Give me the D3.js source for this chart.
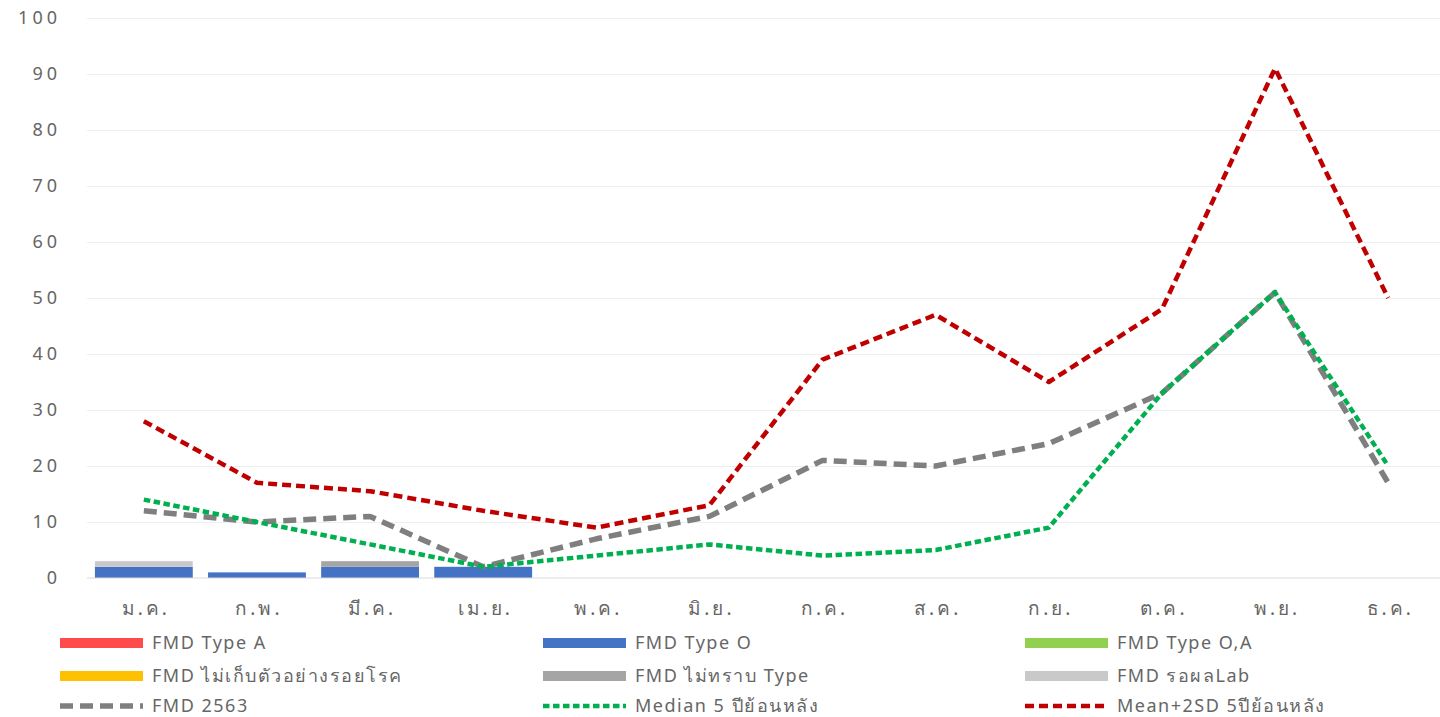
<!DOCTYPE html>
<html>
<head>
<meta charset="utf-8">
<script src="https://cdn.jsdelivr.net/npm/d3@7"></script>
<style>
  body { margin: 0; background: #fff; }
  svg text { font-family: "Noto Sans", "DejaVu Sans", sans-serif; fill: #666666; }
  .grid line { stroke: #eeeeee; }
  .grid .domain { display: none; }
</style>
</head>
<body>
<svg id="chart"></svg>
<script>
// months (Thai abbreviations)
const months = ["ม.ค.", "ก.พ.", "มี.ค.", "เม.ย.", "พ.ค.", "มิ.ย.", "ก.ค.", "ส.ค.", "ก.ย.", "ต.ค.", "พ.ย.", "ธ.ค."];
const yTicks = [0, 10, 20, 30, 40, 50, 60, 70, 80, 90, 100];

// stacked bar series
const typeA      = [0, 0, 0, 0, 0, 0, 0, 0, 0, 0, 0, 0];
const typeO      = [2, 1, 2, 2, 0, 0, 0, 0, 0, 0, 0, 0];
const typeOA     = [0, 0, 0, 0, 0, 0, 0, 0, 0, 0, 0, 0];
const noSample   = [0, 0, 0, 0, 0, 0, 0, 0, 0, 0, 0, 0];
const unknownTyp = [0, 0, 1, 0, 0, 0, 0, 0, 0, 0, 0, 0];
const waitLab    = [1, 0, 0, 0, 0, 0, 0, 0, 0, 0, 0, 0];

// line series
const fmd2563  = [12, 10, 11, 2, 7, 11, 21, 20, 24, 33, 51, 17];
const median5  = [14, 10, 6, 2, 4, 6, 4, 5, 9, 33, 51, 20];
const mean2sd5 = [28, 17, 15.5, 12, 9, 13, 39, 47, 35, 48, 91, 50];

const barSeries = [
  {key: "a",  name: "FMD Type A",                    values: typeA,      color: "#ff4b4b"},
  {key: "o",  name: "FMD Type O",                    values: typeO,      color: "#4472c4"},
  {key: "oa", name: "FMD Type O,A",                  values: typeOA,     color: "#92d050"},
  {key: "ns", name: "FMD ไม่เก็บตัวอย่างรอยโรค",      values: noSample,   color: "#ffc000"},
  {key: "un", name: "FMD ไม่ทราบ  Type",              values: unknownTyp, color: "#a5a5a5"},
  {key: "wl", name: "FMD รอผลLab",                   values: waitLab,    color: "#c9c9c9"}
];

const lineSeries = [
  {name: "FMD 2563",               values: fmd2563,  color: "#7f7f7f", width: 5.5, dash: "13,7"},
  {name: "Median 5 ปีย้อนหลัง",      values: median5,  color: "#00b050", width: 4.5, dash: "6.5,3.5"},
  {name: "Mean+2SD 5ปีย้อนหลัง",     values: mean2sd5, color: "#c00000", width: 4.5, dash: "9,5"}
];

const width = 1440, height = 717;
const svg = d3.select("#chart").attr("width", width).attr("height", height);

const x = d3.scaleBand().domain(months).range([87, 1445]).paddingInner(0.135).paddingOuter(0.07);
const y = d3.scaleLinear().domain([0, 100]).range([578, 18]);
const cx = m => x(m) + x.bandwidth() / 2;

// gridlines
svg.append("g")
  .attr("class", "grid")
  .attr("transform", "translate(87,0)")
  .call(d3.axisLeft(y).tickValues(yTicks.slice(1)).tickSize(-1353).tickFormat(""));

// y labels
svg.append("g")
  .selectAll("text")
  .data(yTicks)
  .join("text")
  .attr("x", 61)
  .attr("y", d => y(d))
  .attr("dy", "0.35em")
  .attr("text-anchor", "end")
  .style("font-size", "18px")
  .style("letter-spacing", "4px")
  .text(d => d);

// stacked bars
const table = months.map((m, i) => {
  const row = {month: m};
  barSeries.forEach(s => row[s.key] = s.values[i]);
  return row;
});
const stacked = d3.stack().keys(barSeries.map(s => s.key))(table);

svg.append("g")
  .selectAll("g")
  .data(stacked)
  .join("g")
  .attr("fill", (d, i) => barSeries[i].color)
  .selectAll("rect")
  .data(d => d)
  .join("rect")
  .attr("x", d => x(d.data.month))
  .attr("width", x.bandwidth())
  .attr("y", d => y(d[1]))
  .attr("height", d => y(d[0]) - y(d[1]));

// x axis line
svg.append("line")
  .attr("x1", 87).attr("x2", 1440)
  .attr("y1", y(0)).attr("y2", y(0))
  .attr("stroke", "#d9d9d9").attr("stroke-width", 1);

// x labels
svg.append("g")
  .selectAll("text")
  .data(months)
  .join("text")
  .attr("x", d => cx(d) + 2)
  .attr("y", 608)
  .attr("dy", "0.35em")
  .attr("text-anchor", "middle")
  .style("font-size", "19px")
  .style("letter-spacing", "3px")
  .text(d => d);

// lines
const line = d3.line()
  .x((d, i) => cx(months[i]))
  .y(d => y(d));

svg.append("g")
  .selectAll("path")
  .data(lineSeries)
  .join("path")
  .attr("d", d => line(d.values))
  .attr("fill", "none")
  .attr("stroke", d => d.color)
  .attr("stroke-width", d => d.width)
  .attr("stroke-dasharray", d => d.dash)
  .attr("stroke-linejoin", "round");

// legend
const colX = [60, 543, 1025];
const rowY = [643, 676, 706];
const legendItems = barSeries.map(s => ({type: "bar", ...s})).concat(lineSeries.map(s => ({type: "line", ...s})));

const legend = svg.append("g")
  .selectAll("g")
  .data(legendItems)
  .join("g")
  .attr("transform", (d, i) => `translate(${colX[i % 3]},${rowY[Math.floor(i / 3)]})`);

legend.filter(d => d.type === "bar")
  .append("rect")
  .attr("x", 0).attr("y", -5)
  .attr("width", 83).attr("height", 10)
  .attr("fill", d => d.color);

legend.filter(d => d.type === "line")
  .append("line")
  .attr("x1", 0).attr("x2", 83)
  .attr("y1", 0).attr("y2", 0)
  .attr("stroke", d => d.color)
  .attr("stroke-width", d => d.width)
  .attr("stroke-dasharray", d => d.dash);

legend.append("text")
  .attr("x", 92)
  .attr("y", 0)
  .attr("dy", "0.35em")
  .style("font-size", "18px")
  .style("letter-spacing", "1.5px")
  .text(d => d.name);
</script>
</body>
</html>
